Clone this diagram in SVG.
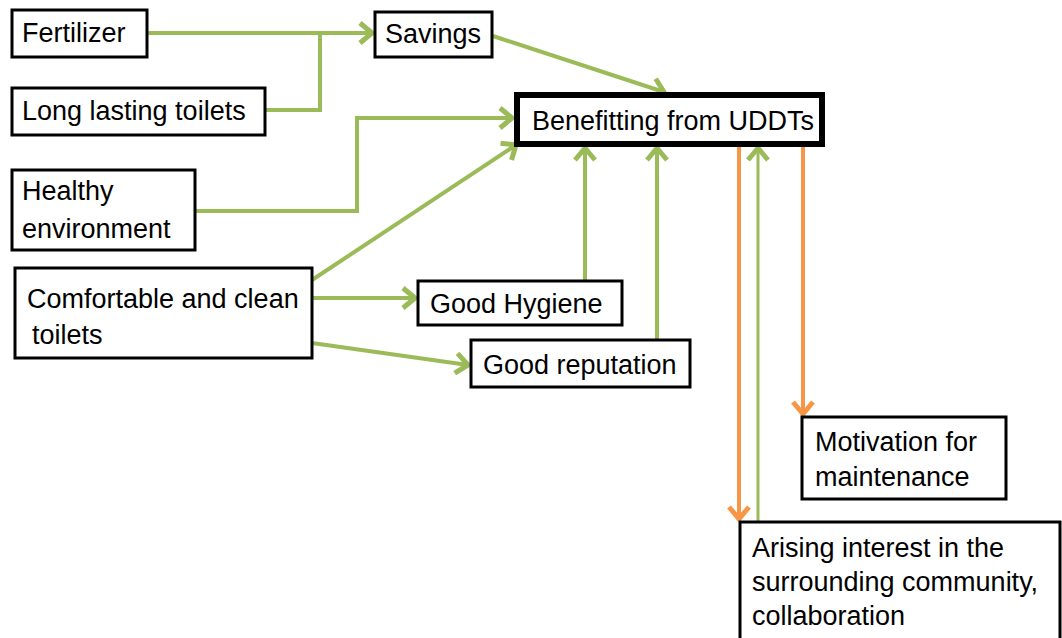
<svg xmlns="http://www.w3.org/2000/svg" width="1062" height="638" viewBox="0 0 1062 638">
<defs>
<style>
.box{fill:#fff;stroke:#000;stroke-width:3}
.main{fill:#fff;stroke:#000;stroke-width:6}
text{font-family:"Liberation Sans",Arial,sans-serif;font-size:27px;fill:#000}
.g{fill:none;stroke:#9BBB59;stroke-width:4}
.o{fill:none;stroke:#F79646;stroke-width:4}
</style>
<marker id="ag" markerUnits="userSpaceOnUse" markerWidth="20" markerHeight="26" refX="15" refY="12" orient="auto" viewBox="0 0 20 26">
<path d="M3,2 L15,12 L3,22" fill="none" stroke="#9BBB59" stroke-width="5" stroke-linejoin="round"/>
</marker>
<marker id="ao" markerUnits="userSpaceOnUse" markerWidth="20" markerHeight="26" refX="15" refY="12" orient="auto" viewBox="0 0 20 26">
<path d="M3,2 L15,12 L3,22" fill="none" stroke="#F79646" stroke-width="5" stroke-linejoin="round"/>
</marker>
</defs>
<rect width="1062" height="638" fill="#fff"/>
<g id="connectors">
<path class="g" d="M147,33 H372" marker-end="url(#ag)"/>
<path class="g" d="M265,110 H320 V33"/>
<path class="g" d="M493,36 L664,92" marker-end="url(#ag)"/>
<path class="g" d="M195,211 H357 V118 H512" marker-end="url(#ag)"/>
<path class="g" d="M312,280 L516,145" marker-end="url(#ag)"/>
<path class="g" d="M312,298 H415" marker-end="url(#ag)"/>
<path class="g" d="M312,343 L468,365" marker-end="url(#ag)"/>
<path class="g" d="M585,281 V148" marker-end="url(#ag)"/>
<path class="g" d="M657,340 V148" marker-end="url(#ag)"/>
<path class="o" d="M739,147 V519" marker-end="url(#ao)"/>
<path class="g" d="M758,521 V148" marker-end="url(#ag)" style="stroke-width:3"/>
<path class="o" d="M803,147 V414" marker-end="url(#ao)"/>
</g>
<g id="fertilizer"><rect class="box" x="12" y="10" width="135" height="47"/><text x="22" y="42">Fertilizer</text></g>
<g id="savings"><rect class="box" x="375" y="12" width="117" height="45"/><text x="385" y="43">Savings</text></g>
<g id="long-lasting"><rect class="box" x="12" y="88" width="253" height="47"/><text x="22" y="120">Long lasting toilets</text></g>
<g id="healthy"><rect class="box" x="12" y="170" width="183" height="80"/><text x="22" y="200">Healthy</text><text x="22" y="238">environment</text></g>
<g id="benefitting"><rect class="main" x="517" y="95" width="305" height="49"/><text x="532" y="130">Benefitting from UDDTs</text></g>
<g id="comfortable"><rect class="box" x="15" y="268" width="297" height="90"/><text x="27" y="308">Comfortable and clean</text><text x="32" y="344">toilets</text></g>
<g id="hygiene"><rect class="box" x="418" y="281" width="204" height="44"/><text x="430" y="313">Good Hygiene</text></g>
<g id="reputation"><rect class="box" x="471" y="340" width="219" height="47"/><text x="483" y="374">Good reputation</text></g>
<g id="motivation"><rect class="box" x="802" y="417" width="204" height="82"/><text x="815" y="451">Motivation for</text><text x="815" y="486">maintenance</text></g>
<g id="arising"><rect class="box" x="740" y="522" width="320" height="130"/><text x="752" y="557">Arising interest in the</text><text x="752" y="591">surrounding community,</text><text x="752" y="625">collaboration</text></g>
</svg>
